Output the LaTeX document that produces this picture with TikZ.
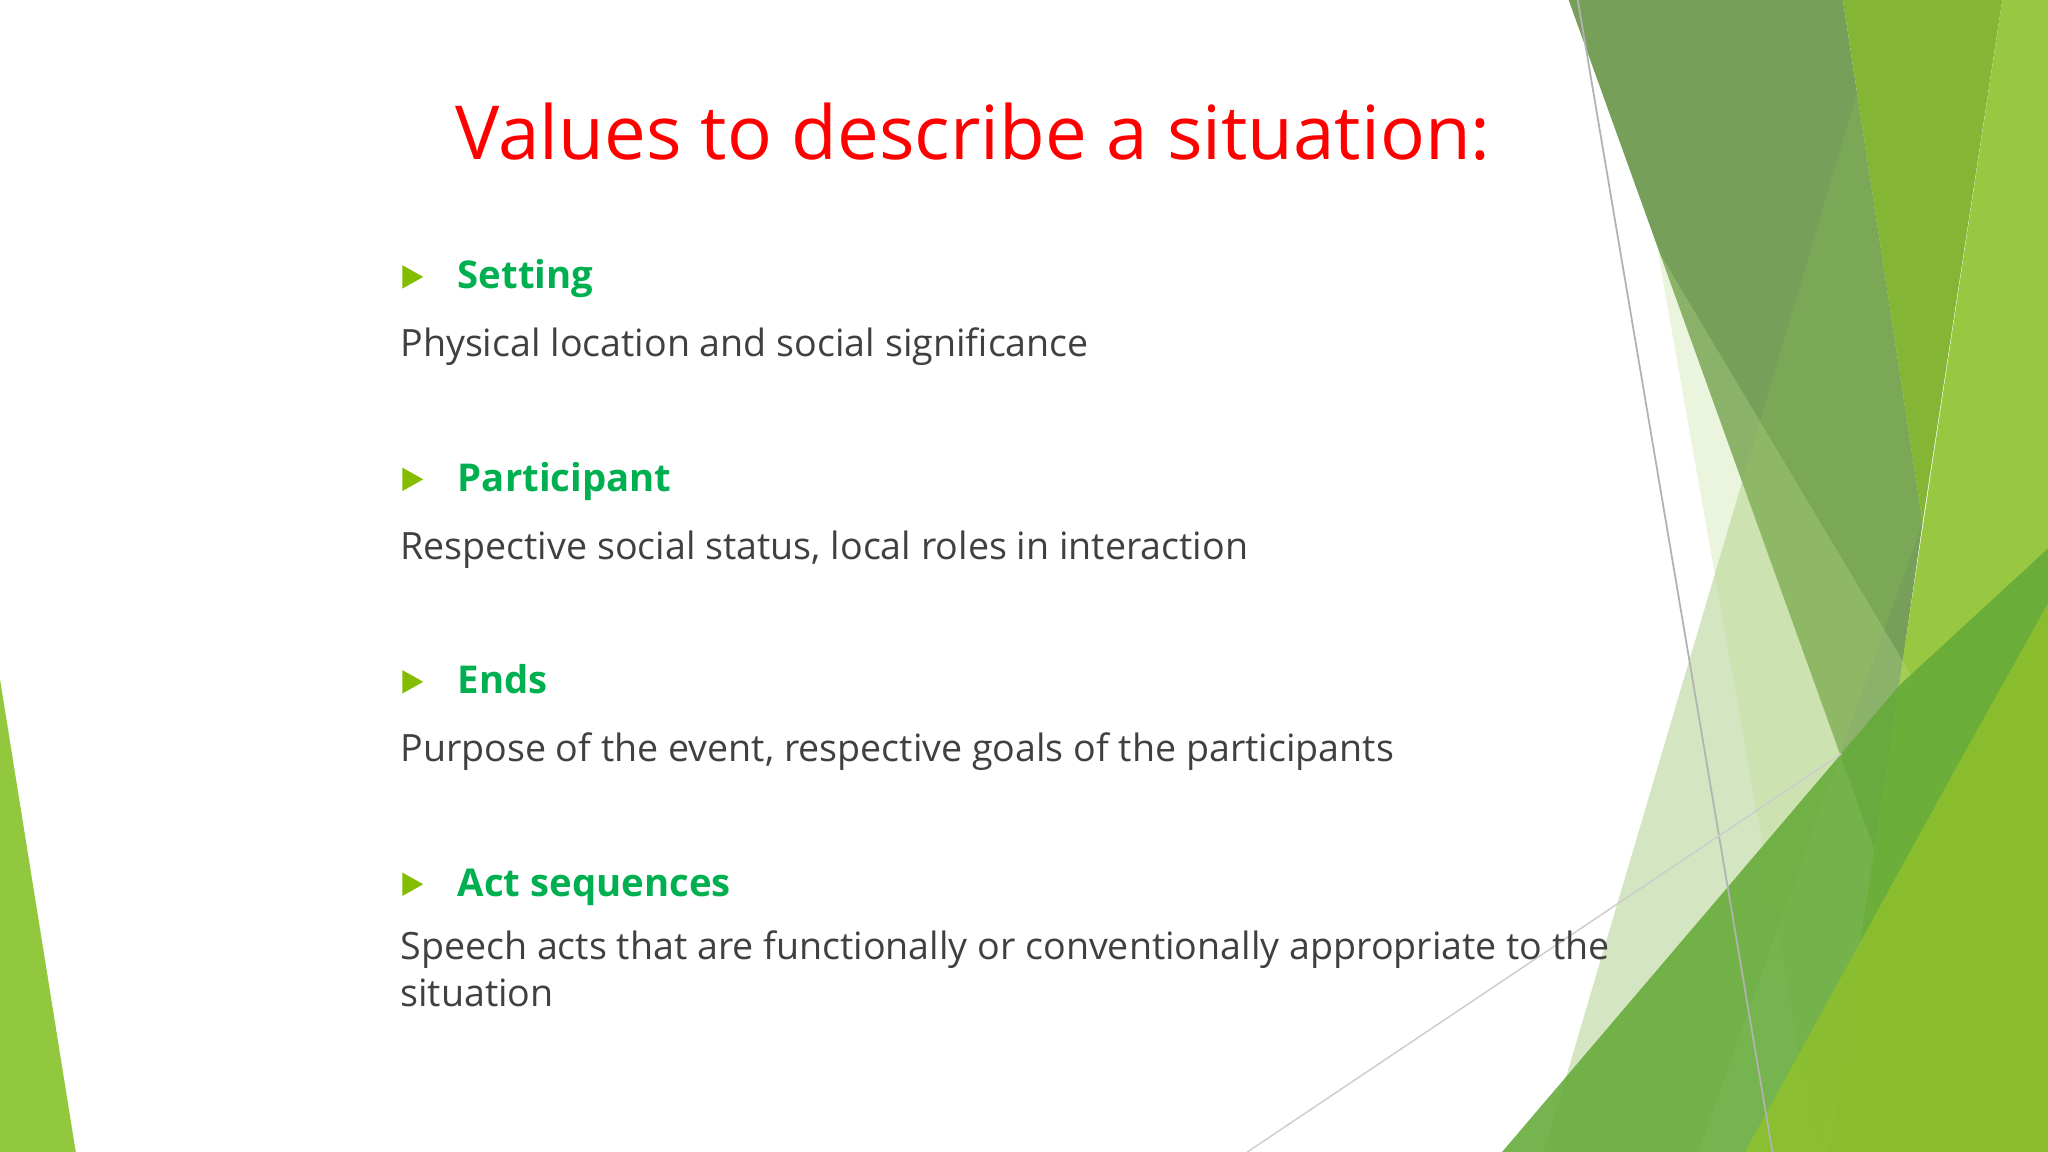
\documentclass[tikz,border=0pt]{standalone}
\usepackage{fontspec}
\setmainfont{Open Sans}
\definecolor{titlered}{HTML}{FF0000}
\definecolor{headgreen}{HTML}{00B050}
\definecolor{bodygray}{HTML}{404040}
\definecolor{bulletgreen}{HTML}{84BD00}
\begin{document}
\begin{tikzpicture}[x=0.013061cm,y=-0.013061cm,
  title/.style={text=titlered,font=\fontsize{21.2}{26}\selectfont,inner sep=0},
  head/.style={text=headgreen,font=\fontsize{10.9}{14}\selectfont\bfseries,anchor=base west,inner sep=0},
  body/.style={text=bodygray,font=\fontsize{10.7}{13.5}\selectfont,anchor=base west,inner sep=0,align=left},
  bul/.style={fill=bulletgreen}]
\useasboundingbox (0,0) rectangle (1568,882);
\fill[white] (0,0) rectangle (1568,882);
% decorative shapes
\fill[fill={rgb,255:red,146;green,200;blue,62}] (0,520) -- (58,882) -- (0,882) -- cycle;
\fill[fill={rgb,255:red,118;green,160;blue,90}] (1201,0) -- (1411,0) -- (1472,400) -- (1436,653) -- cycle;
\fill[fill={rgb,255:red,130;green,185;blue,80},opacity=0.35] (1443,0) -- (1472,400) -- (1300,882) -- (1182,882) -- cycle;
\fill[fill={rgb,255:red,133;green,181;blue,53}] (1411,0) -- (1533,0) -- (1472,400) -- cycle;
\fill[fill={rgb,255:red,152;green,199;blue,65}] (1533,0) -- (1568,0) -- (1568,882) -- (1400,882) -- cycle;
\fill[fill={rgb,255:red,190;green,220;blue,140},opacity=0.3] (1269,191) -- (1501,580) -- (1391,882) -- cycle;
\fill[fill={rgb,255:red,100;green,170;blue,55},opacity=0.88] (1150,882) -- (1455,524) -- (1568,420) -- (1568,882) -- cycle;
\fill[fill={rgb,255:red,141;green,191;blue,46},opacity=0.92] (1336,882) -- (1502,580) -- (1568,462) -- (1568,882) -- cycle;
\draw[gray!60,line width=0.5pt] (1208,0) -- (1357,882);
\draw[gray!40,line width=0.4pt] (955,882) -- (1410,577);
% text
\node[title] (t) at (745,101) {Values to describe a situation:};
\foreach \i/\h/\b in {0/Setting/Physical location and social significance,
  1/Participant/{Respective social status, local roles in interaction},
  2/Ends/{Purpose of the event, respective goals of the participants}}{
  \fill[bul] (308,{203+155*\i}) -- (324,{212+155*\i}) -- (308,{221+155*\i}) -- cycle;
  \node[head] (h\i) at (350,{221+155*\i}) {\h};
  \node[body] (b\i) at (306,{273+155*\i}) {\b};
}
\fill[bul] (308,668) -- (324,677) -- (308,686) -- cycle;
\node[head] (h3) at (350,686) {Act sequences};
\node[body,anchor=north west] (b3) at (306,712) {Speech acts that are functionally or conventionally appropriate to the\\situation};
\end{tikzpicture}
\end{document}
